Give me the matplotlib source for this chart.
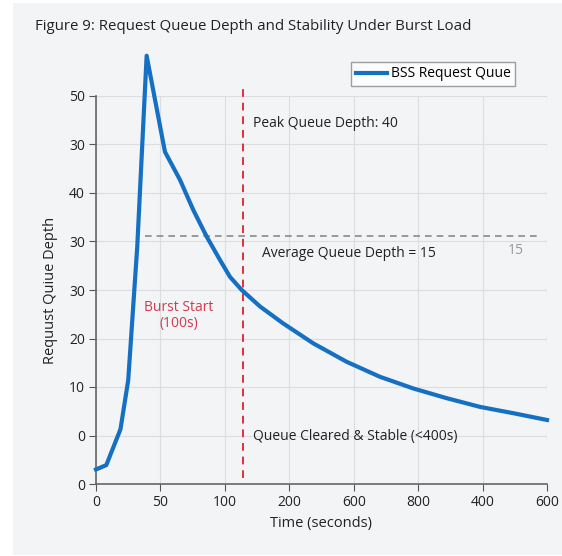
import matplotlib
matplotlib.use("Agg")
import matplotlib.pyplot as plt
from matplotlib.patches import Rectangle

# tick labels as printed on the reference (spacing is even)
x_tick_labels = ["0", "50", "100", "200", "600", "800", "400", "600"]
y_tick_labels = ["0", "0", "10", "20", "30", "30", "40", "30", "50"]

# queue curve, x in tick-position units (50 per tick), y in tick-position units (10 per tick)
time_pos = [0, 8, 19, 25, 32, 39.3, 53.5, 65.2, 75.5, 85.9, 96.2, 104.0,
            113.1, 127.3, 145.3, 168.6, 194.5, 220.4, 246.2, 272.1, 298.0,
            323.8, 350]
queue_pos = [3.0, 3.9, 11.3, 21.4, 48.9, 88.3, 68.5, 62.7, 56.5, 51.0, 46.2,
             42.7, 40.0, 36.6, 33.1, 29.0, 25.2, 22.1, 19.7, 17.7, 15.9,
             14.6, 13.2]

avg_level = 51.1
burst_x = 114

fig = plt.figure(figsize=(5.62, 5.56), dpi=100)
fig.patch.set_facecolor("white")
fig.patches.append(Rectangle((13 / 562, 1 / 556), 549 / 562, 552 / 556,
                             transform=fig.transFigure, facecolor="#f3f4f5",
                             edgecolor="none", zorder=-5))

ax = fig.add_axes([96 / 562, 1 - 484 / 556, 451 / 562, 388 / 556])
ax.set_facecolor("none")

font = "Open Sans"
txt = "#222222"

ax.plot(time_pos, queue_pos, color="#1570c4", lw=3, clip_on=False, zorder=4,
        solid_joinstyle="round", label="BSS Request Quue")

# average line + burst marker
ax.plot([38, 345], [avg_level, avg_level], color="#8a8a8a", lw=1.2,
        ls=(0, (4, 3)), clip_on=False, zorder=3)
ax.plot([burst_x, burst_x], [1.2, 81.6], color="#e0303c", lw=1.4,
        ls=(0, (4, 3)), clip_on=False, zorder=3)

ax.text(122, 74.4, "Peak Queue Depth: 40", fontsize=10, family=font,
        color=txt, va="center", ha="left")
ax.text(129, 47.6, "Average Queue Depth = 15", fontsize=10, family=font,
        color=txt, va="center", ha="left")
ax.text(326, 48.2, "15", fontsize=10, family=font, color="#999999",
        va="center", ha="center")
ax.text(64, 34.8, "Burst Start\n(100s)", fontsize=10, family=font,
        color="#d23a4f", va="center", ha="center", linespacing=1.1)
ax.text(122, 9.7, "Queue Cleared & Stable (<400s)", fontsize=10,
        family=font, color=txt, va="center", ha="left")

ax.set_xlim(0, 350)
ax.set_ylim(0, 80)
ax.set_xticks(range(0, 351, 50))
ax.set_xticklabels(x_tick_labels)
ax.set_yticks(range(0, 81, 10))
ax.set_yticklabels(y_tick_labels)
for lab in ax.get_xticklabels() + ax.get_yticklabels():
    lab.set_family(font)
    lab.set_fontsize(10)
    lab.set_color(txt)
ax.tick_params(length=5, color="#555555", pad=3)

ax.grid(True, color="#dcdde0", lw=0.8)
ax.set_axisbelow(True)
for s in ["top", "right"]:
    ax.spines[s].set_visible(False)
for s in ["left", "bottom"]:
    ax.spines[s].set_color("#666666")
    ax.spines[s].set_linewidth(1.2)

ax.set_xlabel("Time (seconds)", fontsize=10.5, family=font, color=txt,
              labelpad=4)
ax.set_ylabel("Requust Quiue Depth", fontsize=10.5, family=font, color=txt,
              labelpad=8)

leg = ax.legend(loc="lower right", bbox_to_anchor=(0.93, 1.025), frameon=True,
                fancybox=False, prop={"family": font, "size": 10},
                handlelength=2.2, borderpad=0.35, handletextpad=0.3,
                borderaxespad=0)
leg.get_frame().set_edgecolor("#888888")
leg.get_frame().set_facecolor("white")
leg.get_frame().set_linewidth(1)

fig.text(35 / 562, 1 - 27 / 556, "Figure 9: Request Queue Depth and Stability Under Burst Load",
         fontsize=10.8, family=font, color=txt, va="center", ha="left")

fig.savefig("out.png", dpi=100)
